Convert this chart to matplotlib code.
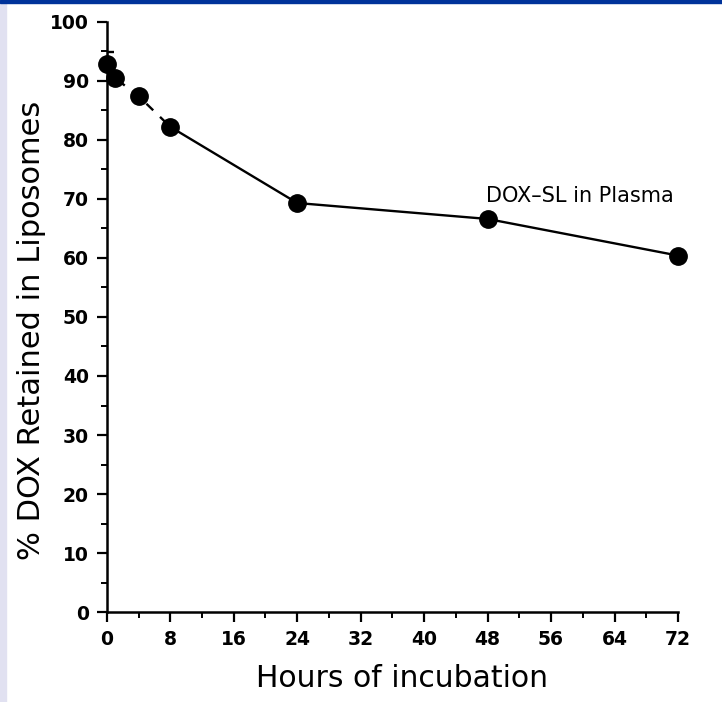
import matplotlib.pyplot as plt
from matplotlib.patches import Rectangle
from matplotlib.ticker import MultipleLocator

hours = [0, 1, 4, 8, 24, 48, 72]
retained = [92.8, 90.5, 87.4, 82.2, 69.3, 66.6, 60.4]
err_t0 = 2.0
n_dashed = 4  # first points joined by a dashed line

fig = plt.figure(figsize=(7.22, 7.02), dpi=100)
fig.patches.append(Rectangle((0, 0), 0.009, 1, transform=fig.transFigure,
                             color="#e1e1f1", zorder=-1))
fig.patches.append(Rectangle((0, 0.996), 1, 0.004, transform=fig.transFigure,
                             color="#00339a", zorder=-1))

ax = fig.add_axes([0.148, 0.128, 0.791, 0.841])

ax.plot(hours[:n_dashed], retained[:n_dashed], color="black", lw=1.7,
        ls=(0, (4, 4)))
ax.plot(hours[n_dashed - 1:], retained[n_dashed - 1:], color="black", lw=1.7)
ax.errorbar(hours[0], retained[0], yerr=[[0], [err_t0]], color="black",
            lw=1.7, capsize=5, capthick=1.7)
ax.plot(hours, retained, "o", color="black", ms=12.5, clip_on=False, zorder=5)

ax.text(47.8, 70.5, "DOX\u2013SL in Plasma", fontsize=15, va="center",
        ha="left")

ax.set_xlim(0, 72)
ax.set_ylim(0, 100)
ax.spines["top"].set_visible(False)
ax.spines["right"].set_visible(False)
ax.spines["left"].set_linewidth(1.8)
ax.spines["bottom"].set_linewidth(1.8)
ax.xaxis.set_major_locator(MultipleLocator(8))
ax.xaxis.set_minor_locator(MultipleLocator(4))
ax.yaxis.set_major_locator(MultipleLocator(10))
ax.yaxis.set_minor_locator(MultipleLocator(5))
ax.tick_params(which="major", length=7, width=1.6, labelsize=13.5, pad=6)
ax.tick_params(which="minor", length=4, width=1.4)
for lbl in ax.get_xticklabels() + ax.get_yticklabels():
    lbl.set_fontweight("bold")

ax.set_xlabel("Hours of incubation", fontsize=21.5)
ax.set_ylabel("% DOX Retained in Liposomes", fontsize=22)
ax.xaxis.set_label_coords(0.516, -0.088)
ax.yaxis.set_label_coords(-0.107, 0.478)

plt.savefig("out.png", dpi=100)
